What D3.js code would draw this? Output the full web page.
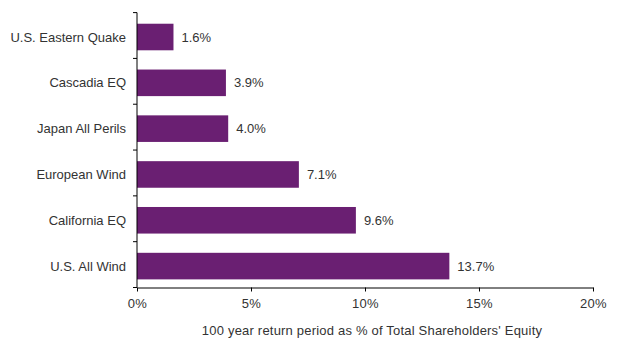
<!DOCTYPE html>
<html><head><meta charset="utf-8">
<script src="https://cdn.jsdelivr.net/npm/d3@7"></script>
<style>body{margin:0;background:#fff}svg{display:block}</style>
</head><body><svg id="c" width="623" height="357"></svg>
<script>
const categories = ["U.S. Eastern Quake","Cascadia EQ","Japan All Perils","European Wind","California EQ","U.S. All Wind"];
const values = [1.6, 3.9, 4.0, 7.1, 9.6, 13.7];
const xTicks = [0, 5, 10, 15, 20];
const axisTitle = "100 year return period as % of Total Shareholders' Equity";

const svg = d3.select("#c");
const font = "'Liberation Sans', Arial, sans-serif";
const txt = "#333";
const fs = 13;
const x = d3.scaleLinear().domain([0,20]).range([137,593]);
const y = d3.scaleBand().domain(categories).range([12.6,287.5]).paddingInner(0.42).paddingOuter(0.21);
const bandStep = y.step();

svg.append("g").selectAll("rect").data(values).join("rect")
  .attr("x", x(0)).attr("y", (d,i)=>y(categories[i])+1.5)
  .attr("width", d=>x(d)-x(0)).attr("height", y.bandwidth())
  .attr("fill","#6a1f72");

svg.append("g").selectAll("text").data(values).join("text")
  .attr("x", d=>x(d)+8).attr("y",(d,i)=>y(categories[i])+1.5+y.bandwidth()/2)
  .attr("dy","0.35em").attr("font-family",font).attr("font-size",fs).attr("fill",txt)
  .text(d=>d.toFixed(1)+"%");

// y axis
const ya = svg.append("g");
ya.append("line").attr("x1",x(0)).attr("x2",x(0)).attr("y1",12.6).attr("y2",287.5).attr("stroke","#000");
const bounds = d3.range(categories.length+1).map(i=>12.6+i*bandStep);
ya.selectAll("line.t").data(bounds).join("line").attr("class","t")
  .attr("x1",x(0)-4).attr("x2",x(0)).attr("y1",d=>d).attr("y2",d=>d).attr("stroke","#000");
ya.selectAll("text").data(categories).join("text")
  .attr("x",126).attr("y",d=>y(d)+y.bandwidth()/2+1.5).attr("dy","0.35em")
  .attr("text-anchor","end").attr("font-family",font).attr("font-size",fs).attr("fill",txt).text(d=>d);

// x axis
const xa = svg.append("g").attr("transform","translate(0,287.5)")
  .call(d3.axisBottom(x).tickValues(xTicks).tickSize(4).tickSizeOuter(0).tickFormat(d=>d+"%"));
xa.select(".domain").attr("stroke","#000");
xa.selectAll(".tick line").attr("stroke","#000");
xa.selectAll("text").attr("font-family",font).attr("font-size",fs).attr("fill",txt).attr("y",10).attr("dy","0.8em").attr("letter-spacing","0.3px");

svg.append("text").attr("x",372).attr("y",335).attr("text-anchor","middle")
  .attr("font-family",font).attr("font-size",fs).attr("fill",txt).attr("letter-spacing","0.2px").text(axisTitle);
</script></body></html>
